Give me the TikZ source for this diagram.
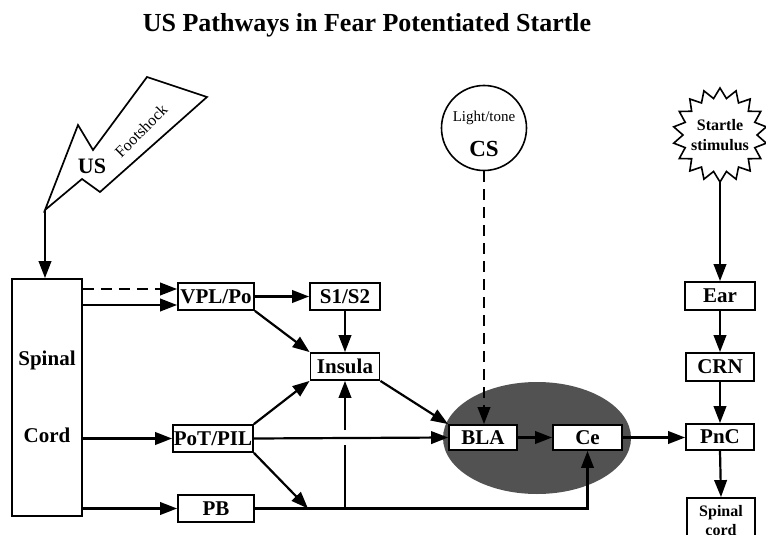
\documentclass[tikz,border=0pt]{standalone}
\usepackage{fontspec}
\setmainfont{Liberation Serif}
\usetikzlibrary{arrows.meta,shapes.geometric}
\definecolor{amyg}{RGB}{82,82,82}
\begin{document}
\begin{tikzpicture}[x=1pt,y=-1pt,
  box/.style={draw, line width=1.8pt, fill=white, inner sep=0pt,
    font=\bfseries\fontsize{21}{23}\selectfont, minimum height=27pt},
  arr/.style={line width=2.2pt, -{Triangle[length=17pt,width=12.5pt]}},
  plain/.style={line width=2.2pt},
  dsh/.style={dash pattern=on 11pt off 7pt}]
\useasboundingbox (0,0) rectangle (766,535);
\clip (0,0) rectangle (766,535);

% title
\node[font=\bfseries\fontsize{26}{28}\selectfont] (title) at (367,25) {US Pathways in Fear Potentiated Startle};

% US lightning arrow
\draw[line width=1.7pt, fill=white, line join=miter]
  (45,210) -- (82,179) -- (100,192) -- (207,97) -- (147,77) -- (93,150) -- (78,125) -- cycle;
\coordinate (ustip) at (45,210);
\node[font=\bfseries\fontsize{22}{24}\selectfont, inner sep=0pt] (us) at (92,166) {US};
\node[font=\fontsize{16}{18}\selectfont, rotate=45, inner sep=0pt] (foot) at (141,131) {Footshock};

% CS circle
\node[circle, draw, line width=1.6pt, minimum size=85pt, inner sep=0pt] (cs) at (484,128) {};
\node[font=\fontsize{15}{17}\selectfont] (cslab) at (484,118) {Light/tone};
\node[font=\bfseries\fontsize{23}{25}\selectfont] (cstxt) at (484,149) {CS};

% startle star
\draw[line width=1.6pt, fill=white, line join=miter]
  plot[variable=\k, samples at={0,...,35}]
  ({720+(47-10*mod(\k,2))*cos(90+\k*10)},{135+(47-10*mod(\k,2))*sin(90+\k*10)}) -- cycle;
\coordinate (starbot) at (720,182);
\node[font=\bfseries\fontsize{16}{20}\selectfont, align=center] (startle) at (720,135) {Startle\\stimulus};

% amygdala ellipse
\node[ellipse, fill=amyg, minimum width=188pt, minimum height=112pt, inner sep=0pt] (amyg) at (537,438) {};

% boxes
\node[box, minimum width=70pt, minimum height=237pt] (spinal) at (47,397.5) {};
\node[font=\bfseries\fontsize{21}{23}\selectfont] (spinaltxt) at (47,360) {Spinal};
\node[font=\bfseries\fontsize{21}{23}\selectfont] (cordtxt) at (47,435) {Cord};
\node[box, minimum width=76pt] (vpl) at (216,296.5) {VPL/Po};
\node[box, minimum width=70pt] (s1) at (345,296.5) {S1/S2};
\node[box, minimum width=69pt] (insula) at (345,366.5) {Insula};
\node[box, minimum width=80pt] (pot) at (213,438.5) {PoT/PIL};
\node[box, minimum width=76pt] (pb) at (216,508.5) {PB};
\node[box, minimum width=68pt, minimum height=25pt] (bla) at (483,437.5) {BLA};
\node[box, minimum width=69pt, minimum height=25pt] (ce) at (587.5,437.5) {Ce};
\node[box, minimum width=70pt, minimum height=28pt] (ear) at (720,296) {Ear};
\node[box, minimum width=68pt, minimum height=28pt] (crn) at (720,367) {CRN};
\node[box, minimum width=68pt, minimum height=26pt] (pnc) at (720,437) {PnC};
\node[box, minimum width=68pt, minimum height=46pt, align=center,
  font=\bfseries\fontsize{16}{19}\selectfont] (sc) at (721,521) {Spinal\\cord};

% connectors
\draw[arr] (ustip) -- (ustip |- spinal.north);
\coordinate (vplA) at ([yshift=7.5pt]vpl.west);
\coordinate (vplB) at ([yshift=-8.5pt]vpl.west);
\draw[arr, dsh] (spinal.east |- vplA) -- (vplA);
\draw[arr] (spinal.east |- vplB) -- (vplB);
\draw[arr] (vpl.east) -- (s1.west);
\draw[arr] (vpl.south east) -- (insula.north west);
\draw[arr] (s1.south) -- (insula.north);
\draw[arr] (spinal.east |- pot.west) -- (pot.west);
\draw[arr] (pot.north east) -- (insula.south west);
\coordinate (pbj) at (308,508.5);
\draw[arr] (pot.south east) -- (pbj);
\draw[arr] (spinal.east |- pb.west) -- (pb.west);
\draw[arr] (pb.east) -- (pb.east -| ce.south) -- (ce.south);
\coordinate (vbot) at (345,508.5);
\coordinate (vgapb) at (345,445);
\coordinate (vgapt) at (345,430);
\draw[plain] (vbot) -- (vgapb);
\draw[arr] (vgapt) -- (insula.south);
\draw[arr] (pot.east) -- (bla.west);
\draw[arr] (insula.south east) -- (bla.north west);
\draw[arr, dsh] (cs.south) -- (cs.south |- bla.north);
\draw[arr] (bla.east) -- (ce.west);
\draw[arr] (ce.east) -- (ce.east -| pnc.west);
\draw[arr] (starbot) -- (ear.north);
\draw[arr] (ear.south) -- (crn.north);
\draw[arr] (crn.south) -- (pnc.north);
\draw[arr] (pnc.south) -- (sc.north);
\end{tikzpicture}
\end{document}
